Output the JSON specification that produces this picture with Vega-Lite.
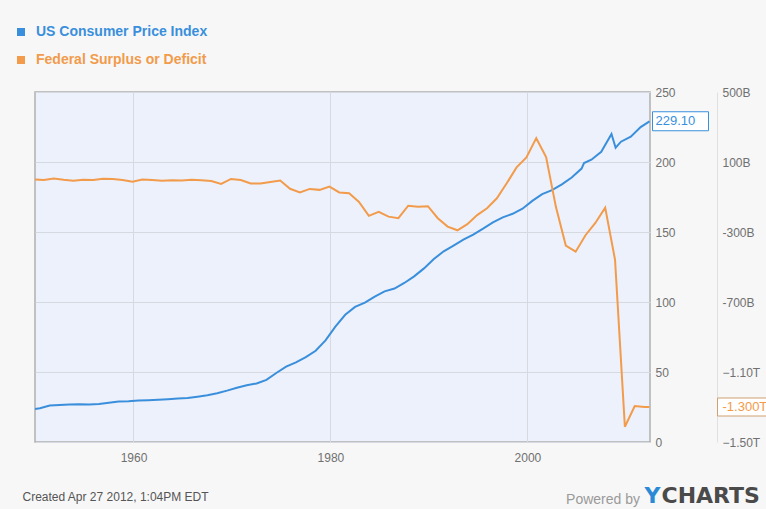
{
  "$schema": "https://vega.github.io/schema/vega-lite/v6.json",
  "width": 615,
  "height": 350,
  "autosize": {"type": "none"},
  "padding": {"left": 35, "top": 92, "right": 116, "bottom": 67},
  "background": "#f7f7f7",
  "config": {
    "view": {"fill": "#edf1fb", "stroke": "#b0b0b0", "strokeWidth": 1.5},
    "font": "Liberation Sans",
    "axis": {"labelFont": "Liberation Sans", "labelFontSize": 12, "labelColor": "#707070", "ticks": false, "domain": false, "gridColor": "#d6d9e0"},
    "legend": {"padding": 0}
  },
  "title": {"text": "Powered by", "orient": "bottom", "anchor": "end", "frame": "group", "dx": -10, "dy": -17, "font": "Liberation Sans", "fontSize": 14, "fontWeight": "normal", "color": "#9a9a9a"},
  "datasets": {
    "cpi": [
      {"year": 1950.0, "value": 23.5, "series": "US Consumer Price Index"},
      {"year": 1950.5, "value": 24.1, "series": "US Consumer Price Index"},
      {"year": 1951.5, "value": 26.0, "series": "US Consumer Price Index"},
      {"year": 1952.5, "value": 26.5, "series": "US Consumer Price Index"},
      {"year": 1953.5, "value": 26.7, "series": "US Consumer Price Index"},
      {"year": 1954.5, "value": 26.9, "series": "US Consumer Price Index"},
      {"year": 1955.5, "value": 26.8, "series": "US Consumer Price Index"},
      {"year": 1956.5, "value": 27.2, "series": "US Consumer Price Index"},
      {"year": 1957.5, "value": 28.1, "series": "US Consumer Price Index"},
      {"year": 1958.5, "value": 28.9, "series": "US Consumer Price Index"},
      {"year": 1959.5, "value": 29.1, "series": "US Consumer Price Index"},
      {"year": 1960.5, "value": 29.6, "series": "US Consumer Price Index"},
      {"year": 1961.5, "value": 29.9, "series": "US Consumer Price Index"},
      {"year": 1962.5, "value": 30.2, "series": "US Consumer Price Index"},
      {"year": 1963.5, "value": 30.6, "series": "US Consumer Price Index"},
      {"year": 1964.5, "value": 31.0, "series": "US Consumer Price Index"},
      {"year": 1965.5, "value": 31.5, "series": "US Consumer Price Index"},
      {"year": 1966.5, "value": 32.4, "series": "US Consumer Price Index"},
      {"year": 1967.5, "value": 33.4, "series": "US Consumer Price Index"},
      {"year": 1968.5, "value": 34.8, "series": "US Consumer Price Index"},
      {"year": 1969.5, "value": 36.7, "series": "US Consumer Price Index"},
      {"year": 1970.5, "value": 38.8, "series": "US Consumer Price Index"},
      {"year": 1971.5, "value": 40.5, "series": "US Consumer Price Index"},
      {"year": 1972.5, "value": 41.8, "series": "US Consumer Price Index"},
      {"year": 1973.5, "value": 44.4, "series": "US Consumer Price Index"},
      {"year": 1974.5, "value": 49.3, "series": "US Consumer Price Index"},
      {"year": 1975.5, "value": 53.8, "series": "US Consumer Price Index"},
      {"year": 1976.5, "value": 56.9, "series": "US Consumer Price Index"},
      {"year": 1977.5, "value": 60.6, "series": "US Consumer Price Index"},
      {"year": 1978.5, "value": 65.2, "series": "US Consumer Price Index"},
      {"year": 1979.5, "value": 72.6, "series": "US Consumer Price Index"},
      {"year": 1980.5, "value": 82.4, "series": "US Consumer Price Index"},
      {"year": 1981.5, "value": 90.9, "series": "US Consumer Price Index"},
      {"year": 1982.5, "value": 96.5, "series": "US Consumer Price Index"},
      {"year": 1983.5, "value": 99.6, "series": "US Consumer Price Index"},
      {"year": 1984.5, "value": 103.9, "series": "US Consumer Price Index"},
      {"year": 1985.5, "value": 107.6, "series": "US Consumer Price Index"},
      {"year": 1986.5, "value": 109.6, "series": "US Consumer Price Index"},
      {"year": 1987.5, "value": 113.6, "series": "US Consumer Price Index"},
      {"year": 1988.5, "value": 118.3, "series": "US Consumer Price Index"},
      {"year": 1989.5, "value": 124.0, "series": "US Consumer Price Index"},
      {"year": 1990.5, "value": 130.7, "series": "US Consumer Price Index"},
      {"year": 1991.5, "value": 136.2, "series": "US Consumer Price Index"},
      {"year": 1992.5, "value": 140.3, "series": "US Consumer Price Index"},
      {"year": 1993.5, "value": 144.5, "series": "US Consumer Price Index"},
      {"year": 1994.5, "value": 148.2, "series": "US Consumer Price Index"},
      {"year": 1995.5, "value": 152.4, "series": "US Consumer Price Index"},
      {"year": 1996.5, "value": 156.9, "series": "US Consumer Price Index"},
      {"year": 1997.5, "value": 160.5, "series": "US Consumer Price Index"},
      {"year": 1998.5, "value": 163.0, "series": "US Consumer Price Index"},
      {"year": 1999.5, "value": 166.6, "series": "US Consumer Price Index"},
      {"year": 2000.5, "value": 172.2, "series": "US Consumer Price Index"},
      {"year": 2001.5, "value": 177.1, "series": "US Consumer Price Index"},
      {"year": 2002.5, "value": 179.9, "series": "US Consumer Price Index"},
      {"year": 2003.5, "value": 184.0, "series": "US Consumer Price Index"},
      {"year": 2004.5, "value": 188.9, "series": "US Consumer Price Index"},
      {"year": 2005.5, "value": 195.3, "series": "US Consumer Price Index"},
      {"year": 2005.75, "value": 199.2, "series": "US Consumer Price Index"},
      {"year": 2006.5, "value": 201.6, "series": "US Consumer Price Index"},
      {"year": 2007.5, "value": 207.3, "series": "US Consumer Price Index"},
      {"year": 2008.54, "value": 219.96, "series": "US Consumer Price Index"},
      {"year": 2008.96, "value": 210.2, "series": "US Consumer Price Index"},
      {"year": 2009.5, "value": 214.5, "series": "US Consumer Price Index"},
      {"year": 2010.5, "value": 218.1, "series": "US Consumer Price Index"},
      {"year": 2011.5, "value": 224.9, "series": "US Consumer Price Index"},
      {"year": 2012.4, "value": 229.1, "series": "US Consumer Price Index", "label": "229.10"}
    ],
    "deficit": [
      {"year": 1949.9, "value": 0.6, "series": "Federal Surplus or Deficit"},
      {"year": 1950.9, "value": -3.1, "series": "Federal Surplus or Deficit"},
      {"year": 1951.9, "value": 6.1, "series": "Federal Surplus or Deficit"},
      {"year": 1952.9, "value": -1.5, "series": "Federal Surplus or Deficit"},
      {"year": 1953.9, "value": -6.5, "series": "Federal Surplus or Deficit"},
      {"year": 1954.9, "value": -1.2, "series": "Federal Surplus or Deficit"},
      {"year": 1955.9, "value": -3.0, "series": "Federal Surplus or Deficit"},
      {"year": 1956.9, "value": 3.9, "series": "Federal Surplus or Deficit"},
      {"year": 1957.9, "value": 3.4, "series": "Federal Surplus or Deficit"},
      {"year": 1958.9, "value": -2.8, "series": "Federal Surplus or Deficit"},
      {"year": 1959.9, "value": -12.8, "series": "Federal Surplus or Deficit"},
      {"year": 1960.9, "value": 0.3, "series": "Federal Surplus or Deficit"},
      {"year": 1961.9, "value": -3.3, "series": "Federal Surplus or Deficit"},
      {"year": 1962.9, "value": -7.1, "series": "Federal Surplus or Deficit"},
      {"year": 1963.9, "value": -4.8, "series": "Federal Surplus or Deficit"},
      {"year": 1964.9, "value": -5.9, "series": "Federal Surplus or Deficit"},
      {"year": 1965.9, "value": -1.4, "series": "Federal Surplus or Deficit"},
      {"year": 1966.9, "value": -3.7, "series": "Federal Surplus or Deficit"},
      {"year": 1967.9, "value": -8.6, "series": "Federal Surplus or Deficit"},
      {"year": 1968.9, "value": -25.2, "series": "Federal Surplus or Deficit"},
      {"year": 1969.9, "value": 3.2, "series": "Federal Surplus or Deficit"},
      {"year": 1970.9, "value": -2.8, "series": "Federal Surplus or Deficit"},
      {"year": 1971.9, "value": -23.0, "series": "Federal Surplus or Deficit"},
      {"year": 1972.9, "value": -23.4, "series": "Federal Surplus or Deficit"},
      {"year": 1973.9, "value": -14.9, "series": "Federal Surplus or Deficit"},
      {"year": 1974.9, "value": -6.1, "series": "Federal Surplus or Deficit"},
      {"year": 1975.9, "value": -53.2, "series": "Federal Surplus or Deficit"},
      {"year": 1976.9, "value": -73.7, "series": "Federal Surplus or Deficit"},
      {"year": 1977.9, "value": -53.7, "series": "Federal Surplus or Deficit"},
      {"year": 1978.9, "value": -59.2, "series": "Federal Surplus or Deficit"},
      {"year": 1979.9, "value": -40.7, "series": "Federal Surplus or Deficit"},
      {"year": 1980.9, "value": -73.8, "series": "Federal Surplus or Deficit"},
      {"year": 1981.9, "value": -79.0, "series": "Federal Surplus or Deficit"},
      {"year": 1982.9, "value": -128.0, "series": "Federal Surplus or Deficit"},
      {"year": 1983.9, "value": -207.8, "series": "Federal Surplus or Deficit"},
      {"year": 1984.9, "value": -185.4, "series": "Federal Surplus or Deficit"},
      {"year": 1985.9, "value": -212.3, "series": "Federal Surplus or Deficit"},
      {"year": 1986.9, "value": -221.2, "series": "Federal Surplus or Deficit"},
      {"year": 1987.9, "value": -149.7, "series": "Federal Surplus or Deficit"},
      {"year": 1988.9, "value": -155.2, "series": "Federal Surplus or Deficit"},
      {"year": 1989.9, "value": -152.6, "series": "Federal Surplus or Deficit"},
      {"year": 1990.9, "value": -221.0, "series": "Federal Surplus or Deficit"},
      {"year": 1991.9, "value": -269.2, "series": "Federal Surplus or Deficit"},
      {"year": 1992.9, "value": -290.3, "series": "Federal Surplus or Deficit"},
      {"year": 1993.9, "value": -255.1, "series": "Federal Surplus or Deficit"},
      {"year": 1994.9, "value": -203.2, "series": "Federal Surplus or Deficit"},
      {"year": 1995.9, "value": -164.0, "series": "Federal Surplus or Deficit"},
      {"year": 1996.9, "value": -107.4, "series": "Federal Surplus or Deficit"},
      {"year": 1997.9, "value": -21.9, "series": "Federal Surplus or Deficit"},
      {"year": 1998.9, "value": 69.3, "series": "Federal Surplus or Deficit"},
      {"year": 1999.9, "value": 125.6, "series": "Federal Surplus or Deficit"},
      {"year": 2000.9, "value": 236.2, "series": "Federal Surplus or Deficit"},
      {"year": 2001.9, "value": 128.2, "series": "Federal Surplus or Deficit"},
      {"year": 2002.9, "value": -157.8, "series": "Federal Surplus or Deficit"},
      {"year": 2003.9, "value": -377.6, "series": "Federal Surplus or Deficit"},
      {"year": 2004.9, "value": -412.7, "series": "Federal Surplus or Deficit"},
      {"year": 2005.9, "value": -318.3, "series": "Federal Surplus or Deficit"},
      {"year": 2006.9, "value": -248.2, "series": "Federal Surplus or Deficit"},
      {"year": 2007.9, "value": -160.7, "series": "Federal Surplus or Deficit"},
      {"year": 2008.9, "value": -458.6, "series": "Federal Surplus or Deficit"},
      {"year": 2009.9, "value": -1412.7, "series": "Federal Surplus or Deficit"},
      {"year": 2010.9, "value": -1294.4, "series": "Federal Surplus or Deficit"},
      {"year": 2011.9, "value": -1299.6, "series": "Federal Surplus or Deficit"},
      {"year": 2012.4, "value": -1300, "series": "Federal Surplus or Deficit", "label": "-1.300T"}
    ]
  },
  "encoding": {
    "x": {"field": "year", "type": "quantitative", "scale": {"domain": [1950, 2012.45], "nice": false, "zero": false},
          "axis": {"values": [1960, 1980, 2000], "format": "d", "grid": true, "labelPadding": 10,
                   "title": "Created Apr 27 2012, 1:04PM EDT", "titleX": -13, "titleY": 58, "titleAlign": "left", "titleBaseline": "alphabetic",
                   "titleFont": "Liberation Sans", "titleFontSize": 12, "titleFontWeight": "normal", "titleColor": "#555555"}}
  },
  "layer": [
    {
      "data": {"name": "cpi"},
      "encoding": {
        "y": {"field": "value", "type": "quantitative", "scale": {"domain": [0, 250], "nice": false},
              "axis": {"orient": "right", "values": [0, 50, 100, 150, 200, 250], "grid": true, "labelPadding": 5,
                       "title": "Y", "titleAngle": 0, "titleX": -6, "titleY": 410, "titleAlign": "left", "titleBaseline": "alphabetic",
                       "titleFont": "DejaVu Sans", "titleFontSize": 22, "titleFontWeight": "bold", "titleColor": "#2a8ad6"}}
      },
      "layer": [
        {
          "mark": {"type": "line", "strokeWidth": 2, "clip": true},
          "encoding": {
            "color": {"field": "series", "type": "nominal",
                      "scale": {"domain": ["US Consumer Price Index", "Federal Surplus or Deficit"], "range": ["#3a8fdc", "#f29b4b"]},
                      "legend": {"orient": "none", "legendX": -21, "legendY": -67, "title": null, "symbolType": "square", "symbolSize": 16, "symbolStrokeWidth": 4,
                                 "labelFont": "Liberation Sans", "labelFontSize": 14, "labelFontWeight": "bold", "labelOffset": 8, "rowPadding": 8, "labelLimit": 0,
                                 "labelColor": {"expr": "datum.value === 'US Consumer Price Index' ? '#3a8fdc' : '#f29b4b'"}}}
          }
        },
        {
          "transform": [{"filter": "datum.label"}],
          "mark": {"type": "rect", "width": 56, "height": 19, "xOffset": 31, "fill": "white", "stroke": "#3a8fdc", "strokeWidth": 1},
          "encoding": {}
        },
        {
          "transform": [{"filter": "datum.label"}],
          "mark": {"type": "text", "align": "left", "dx": 6, "color": "#3a8fdc", "fontSize": 13, "font": "Liberation Sans"},
          "encoding": {"text": {"field": "label"}}
        }
      ]
    },
    {
      "data": {"name": "deficit"},
      "encoding": {
        "y": {"field": "value", "type": "quantitative", "scale": {"domain": [-1500, 500], "nice": false},
              "axis": {"orient": "right", "offset": 67, "values": [500, 100, -300, -700, -1100, -1500], "grid": false, "domain": true, "domainColor": "#e0e0e0", "labelPadding": 5,
                       "labelExpr": "datum.value <= -1000 ? format(datum.value / 1000, '.2f') + 'T' : datum.value + 'B'",
                       "title": "CHARTS", "titleAngle": 0, "titleX": -56, "titleY": 410, "titleAlign": "left", "titleBaseline": "alphabetic",
                       "titleFont": "DejaVu Sans", "titleFontSize": 22, "titleFontWeight": "bold", "titleColor": "#4a4a4a"}}
      },
      "layer": [
        {
          "mark": {"type": "line", "strokeWidth": 2, "clip": true},
          "encoding": {"color": {"field": "series", "type": "nominal"}}
        },
        {
          "transform": [{"filter": "datum.label"}],
          "mark": {"type": "rect", "width": 56, "height": 18, "xOffset": 96, "fill": "white", "stroke": "#d0a070", "strokeWidth": 1},
          "encoding": {}
        },
        {
          "transform": [{"filter": "datum.label"}],
          "mark": {"type": "text", "align": "left", "dx": 73, "color": "#f29b4b", "fontSize": 13, "font": "Liberation Sans"},
          "encoding": {"text": {"field": "label"}}
        }
      ]
    }
  ],
  "resolve": {"scale": {"y": "independent"}}
}
